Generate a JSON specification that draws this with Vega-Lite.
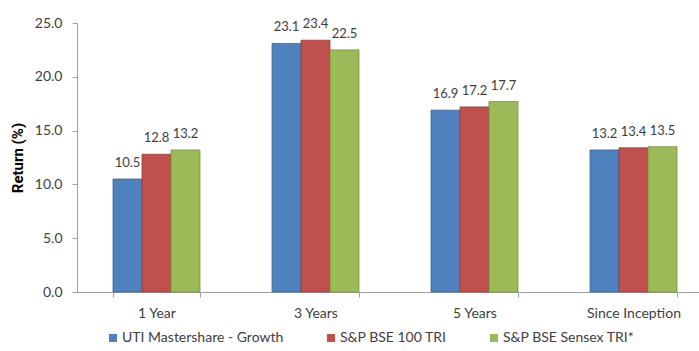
{
  "$schema": "https://vega.github.io/schema/vega-lite/v6.json",
  "width": 622,
  "height": 269,
  "autosize": "none",
  "padding": {"left": 77, "top": 23, "right": 0, "bottom": 59},
  "background": "white",
  "config": {
    "view": {"stroke": null},
    "font": "Lato",
    "axis": {"labelFont": "Lato", "titleFont": "Lato", "grid": false}
  },
  "data": {
    "values": [
      {"period": "1 Year", "series": "UTI Mastershare - Growth", "value": 10.5},
      {"period": "1 Year", "series": "S&P BSE 100 TRI", "value": 12.8},
      {"period": "1 Year", "series": "S&P BSE Sensex TRI*", "value": 13.2},
      {"period": "3 Years", "series": "UTI Mastershare - Growth", "value": 23.1},
      {"period": "3 Years", "series": "S&P BSE 100 TRI", "value": 23.4},
      {"period": "3 Years", "series": "S&P BSE Sensex TRI*", "value": 22.5},
      {"period": "5 Years", "series": "UTI Mastershare - Growth", "value": 16.9},
      {"period": "5 Years", "series": "S&P BSE 100 TRI", "value": 17.2},
      {"period": "5 Years", "series": "S&P BSE Sensex TRI*", "value": 17.7},
      {"period": "Since Inception", "series": "UTI Mastershare - Growth", "value": 13.2},
      {"period": "Since Inception", "series": "S&P BSE 100 TRI", "value": 13.4},
      {"period": "Since Inception", "series": "S&P BSE Sensex TRI*", "value": 13.5}
    ]
  },
  "encoding": {
    "x": {
      "field": "period",
      "type": "nominal",
      "sort": ["1 Year", "3 Years", "5 Years", "Since Inception"],
      "scale": {"range": [0, 636], "paddingInner": 0.453, "paddingOuter": 0.2265},
      "axis": {
        "title": null,
        "labelAngle": 0,
        "tickBand": "extent",
        "domainColor": "#a0a0a0",
        "tickColor": "#a0a0a0",
        "tickSize": 5,
        "labelPadding": 9,
        "labelFontSize": 14,
        "labelColor": "#404040"
      }
    },
    "xOffset": {
      "field": "series",
      "type": "nominal",
      "sort": ["UTI Mastershare - Growth", "S&P BSE 100 TRI", "S&P BSE Sensex TRI*"],
      "scale": {"paddingInner": 0, "paddingOuter": 0}
    },
    "y": {
      "field": "value",
      "type": "quantitative",
      "scale": {"domain": [0, 25], "nice": false},
      "axis": {
        "title": "Return (%)",
        "titleFont": "Roboto",
        "titleFontSize": 15,
        "titleFontWeight": "bold",
        "titleColor": "#000000",
        "titlePadding": 9,
        "values": [0, 5, 10, 15, 20, 25],
        "format": ".1f",
        "domainColor": "#a0a0a0",
        "tickColor": "#a0a0a0",
        "tickSize": 5,
        "labelPadding": 10,
        "labelFontSize": 14,
        "labelColor": "#404040"
      }
    }
  },
  "layer": [
    {
      "mark": {"type": "bar", "strokeWidth": 0.8},
      "encoding": {
        "color": {
          "field": "series",
          "type": "nominal",
          "sort": ["UTI Mastershare - Growth", "S&P BSE 100 TRI", "S&P BSE Sensex TRI*"],
          "scale": {
            "domain": ["UTI Mastershare - Growth", "S&P BSE 100 TRI", "S&P BSE Sensex TRI*"],
            "range": ["#4F81BD", "#C0504D", "#9BBB59"]
          },
          "legend": {
            "title": null,
            "orient": "none",
            "direction": "horizontal",
            "columns": 3,
            "legendX": 29,
            "legendY": 308,
            "symbolType": "square",
            "symbolSize": 64,
            "symbolStrokeWidth": 0,
            "labelFont": "Lato",
            "labelFontSize": 14,
            "labelColor": "#404040",
            "labelLimit": 0,
            "labelOffset": 2,
            "columnPadding": 40
          }
        },
        "stroke": {
          "field": "series",
          "type": "nominal",
          "scale": {
            "domain": ["UTI Mastershare - Growth", "S&P BSE 100 TRI", "S&P BSE Sensex TRI*"],
            "range": ["#3a6596", "#963c3a", "#77903f"]
          },
          "legend": null
        }
      }
    },
    {
      "mark": {"type": "text", "baseline": "bottom", "dy": -9, "fontSize": 13, "color": "#404040", "font": "Lato"},
      "encoding": {
        "text": {"field": "value", "type": "quantitative", "format": ".1f"}
      }
    }
  ]
}
